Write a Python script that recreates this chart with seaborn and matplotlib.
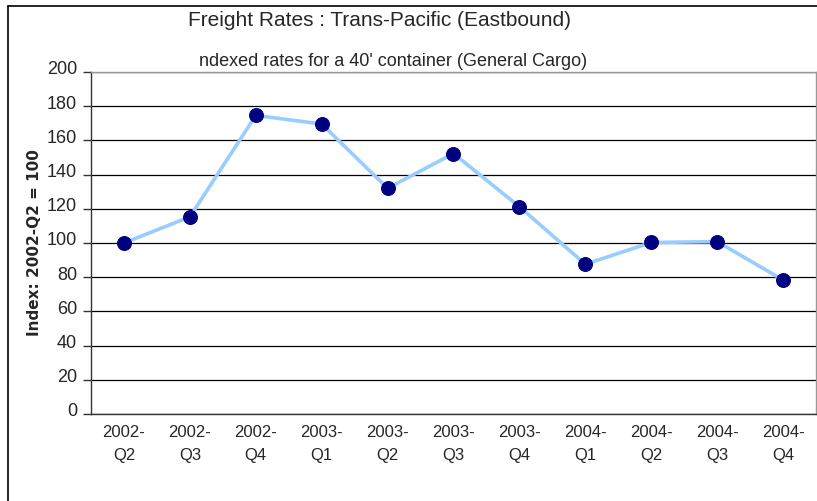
import numpy as np
import pandas as pd
import seaborn as sns
import matplotlib.pyplot as plt
import matplotlib.transforms as mtransforms
from matplotlib.lines import Line2D

# données
trimestres = ["2002-\nQ2", "2002-\nQ3", "2002-\nQ4", "2003-\nQ1", "2003-\nQ2", "2003-\nQ3",
              "2003-\nQ4", "2004-\nQ1", "2004-\nQ2", "2004-\nQ3", "2004-\nQ4"]
indice = [100, 115.3, 174.6, 169.6, 132.0, 152.3, 121.2, 87.6, 100.3, 100.8, 78.4]
y_ticks = [0, 20, 40, 60, 80, 100, 120, 140, 160, 180, 200]

df = pd.DataFrame({"pos": np.arange(len(trimestres)), "indice": indice})

sns.set_style("white")
plt.rcParams['font.family'] = ['Liberation Sans', 'DejaVu Sans']

fig = plt.figure(figsize=(8.17, 5.01), dpi=100)
ax = fig.add_axes([91 / 817, 1 - 414 / 501, (816 - 91) / 817, (414 - 72) / 501])

sns.lineplot(data=df, x="pos", y="indice", ax=ax, color="#99CCFF", linewidth=2.6,
             marker="o", markersize=10, markerfacecolor="#000080", markeredgecolor="#000080",
             zorder=3)

ax.set_xlim(-0.5, len(trimestres) - 0.5)
ax.set_ylim(0, 200)
ax.set_yticks(y_ticks)
ax.set_yticklabels([str(v) for v in y_ticks], fontsize=13)
ax.yaxis.grid(True, color="#000000", linewidth=0.9)
ax.set_axisbelow(True)

# étiquettes centrées sur les catégories, traits entre les catégories
ax.set_xticks(df["pos"])
ax.set_xticklabels(trimestres, fontsize=12, linespacing=1.65)
ax.set_xticks(np.arange(-0.5, len(trimestres)), minor=True)
ax.tick_params(axis="x", which="major", length=0, pad=8)
ax.tick_params(axis="x", which="minor", length=5, width=1, color="#333333", direction="out")
ax.tick_params(axis="y", length=6, width=1, color="#333333", direction="out", left=True, pad=4)

# libellés de l'axe y un peu au-dessus des traits (style Excel)
decal = mtransforms.ScaledTranslation(0, 3 / 72, fig.dpi_scale_trans)
for lab in ax.get_yticklabels():
    lab.set_transform(lab.get_transform() + decal)

ax.set_xlabel("")
ax.set_ylabel("Index: 2002-Q2 = 100", fontsize=11, fontweight="bold", family="DejaVu Sans")
ax.yaxis.set_label_coords(-0.068, 0.5)

for s in ["left", "bottom"]:
    ax.spines[s].set_color("#333333")
    ax.spines[s].set_linewidth(1)
for s in ["top", "right"]:
    ax.spines[s].set_color("#999999")
    ax.spines[s].set_linewidth(1)

fig.text(380 / 817, 1 - 20 / 501, "Freight Rates : Trans-Pacific (Eastbound)",
         ha="center", va="center", fontsize=15)
fig.text(393 / 817, 1 - 62 / 501, "ndexed rates for a 40' container (General Cargo)",
         ha="center", va="center", fontsize=13)

# cadre extérieur du graphique
fig.add_artist(Line2D([8 / 817, 8 / 817], [0, 1 - 6 / 501], transform=fig.transFigure,
                      color="black", linewidth=1.2))
fig.add_artist(Line2D([8 / 817, 1], [1 - 6 / 501, 1 - 6 / 501], transform=fig.transFigure,
                      color="black", linewidth=1.2))

plt.savefig("out.png", dpi=100)
